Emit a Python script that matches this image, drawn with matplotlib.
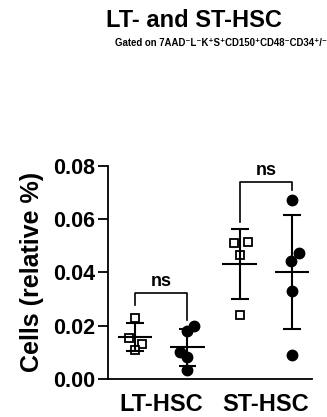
import numpy as np
import matplotlib.pyplot as plt

plt.rcParams['font.family'] = ['Liberation Sans', 'DejaVu Sans']
plt.rcParams['font.weight'] = 'bold'

# data
groups = ["LT-HSC", "ST-HSC"]
lt_sq = [0.023, 0.0155, 0.013, 0.011]
lt_ci = [0.020, 0.018, 0.0103, 0.0081, 0.0034]
st_sq = [0.0511, 0.0515, 0.0465, 0.0239]
st_ci = [0.0671, 0.0474, 0.0443, 0.0331, 0.0091]
yticks = [0.00, 0.02, 0.04, 0.06, 0.08]

# horizontal scatter of points inside each column
lt_sq_dx = [0, -0.11, 0.13, 0]
lt_ci_dx = [0.13, 0, -0.15, 0, 0]
st_sq_dx = [-0.11, 0.16, 0, 0]
st_ci_dx = [0, 0.13, -0.03, 0, 0]

fig = plt.figure(figsize=(3.27, 4.17), dpi=100)
ax = fig.add_axes([0.330, 0.0911, 0.624, 0.5115])

cols = [(lt_sq, lt_sq_dx, 's'), (lt_ci, lt_ci_dx, 'o'),
        (st_sq, st_sq_dx, 's'), (st_ci, st_ci_dx, 'o')]

for i, (vals, dx, m) in enumerate(cols):
    x = i + np.array(dx)
    if m == 's':
        ax.plot(x, vals, 's', ms=6, mfc='white', mec='black', mew=1.3,
                clip_on=False, zorder=3)
    else:
        ax.plot(x, vals, 'o', ms=7.5, mfc='black', mec='black',
                clip_on=False, zorder=3)
    mu = np.mean(vals); sd = np.std(vals, ddof=1)
    ax.hlines(mu, i - 0.33, i + 0.33, color='black', lw=1.5, zorder=4)
    ax.vlines(i, mu - sd, mu + sd, color='black', lw=1.5, zorder=4)
    ax.hlines([mu - sd, mu + sd], i - 0.17, i + 0.17, color='black', lw=1.5, zorder=4)

# significance brackets
def bracket(x1, x2, y, yl, yr):
    ax.plot([x1, x1, x2, x2], [yl, y, y, yr], color='black', lw=1.2, clip_on=False)
    ax.text((x1 + x2) / 2, y + 0.0012, "ns", ha='center', va='bottom',
            fontsize=13, fontweight='bold', clip_on=False)

bracket(0, 1, 0.0321, 0.0277, 0.0221)
bracket(2, 3, 0.074, 0.059, 0.071)

ax.set_xlim(-0.52, 3.38)
ax.set_ylim(0, 0.08)
ax.set_yticks(yticks)
ax.set_yticklabels(["%.2f" % t for t in yticks], fontsize=15.5, fontweight='bold')
ax.set_xticks([0.5, 2.5])
ax.set_xticklabels(groups, fontsize=17, fontweight='bold')
ax.tick_params(axis='x', length=0, pad=10)
ax.tick_params(axis='y', length=7, width=1.3, pad=2)
ax.set_ylabel("Cells (relative %)", fontsize=18, fontweight='bold', labelpad=7)

for s in ['top', 'right']:
    ax.spines[s].set_visible(False)
for s in ['left', 'bottom']:
    ax.spines[s].set_linewidth(1.3)

fig.text(0.593, 0.952, "LT- and ST-HSC", ha='center', va='center',
         fontsize=17, fontweight='bold')
fig.text(0.676, 0.897, "Gated on 7AAD⁻L⁻K⁺S⁺CD150⁺CD48⁻CD34⁺/⁻", ha='center',
         va='center', fontsize=6.9, fontweight='bold')

fig.savefig("out.png", dpi=100)
